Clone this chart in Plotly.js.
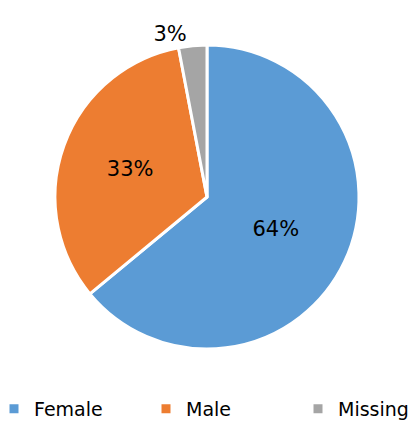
<!DOCTYPE html>
<html><head><meta charset="utf-8">
<script src="https://cdn.plot.ly/plotly-3.0.1.min.js"></script>
<style>html,body{margin:0;padding:0;background:#fff;width:417px;height:428px;overflow:hidden}#c{width:520px;height:428px}</style>
</head><body><div id="c"></div>
<script>
const labels = ['Female', 'Male', 'Missing'];
const values = [64, 33, 3];
const colors = ['#5B9BD5', '#ED7D31', '#A5A5A5'];
const positions = ['inside', 'inside', 'outside'];

const W = 520;
Plotly.newPlot('c', [{
  type: 'pie',
  labels: labels,
  values: values,
  sort: false,
  direction: 'clockwise',
  rotation: 0,
  marker: {colors: colors, line: {color: '#ffffff', width: 3}},
  textinfo: 'percent',
  texttemplate: '%{percent:.0%}',
  textposition: positions,
  insidetextorientation: 'horizontal',
  textfont: {family: 'DejaVu Sans, sans-serif', size: 21, color: '#000'},
  hoverinfo: 'none',
  domain: {x: [55 / W, 359 / W], y: [0.1846, 0.8949]}
}], {
  width: W, height: 428,
  margin: {l: 0, r: 0, t: 0, b: 0},
  paper_bgcolor: '#fff',
  showlegend: true,
  legend: {
    orientation: 'h', x: 0.0, xanchor: 'left', y: 0.0, yanchor: 'bottom',
    indentation: -6,
    font: {family: 'DejaVu Sans, sans-serif', size: 19, color: '#000'},
    entrywidth: 113, entrywidthmode: 'pixels', itemwidth: 30
  }
}, {staticPlot: true});
</script></body></html>
